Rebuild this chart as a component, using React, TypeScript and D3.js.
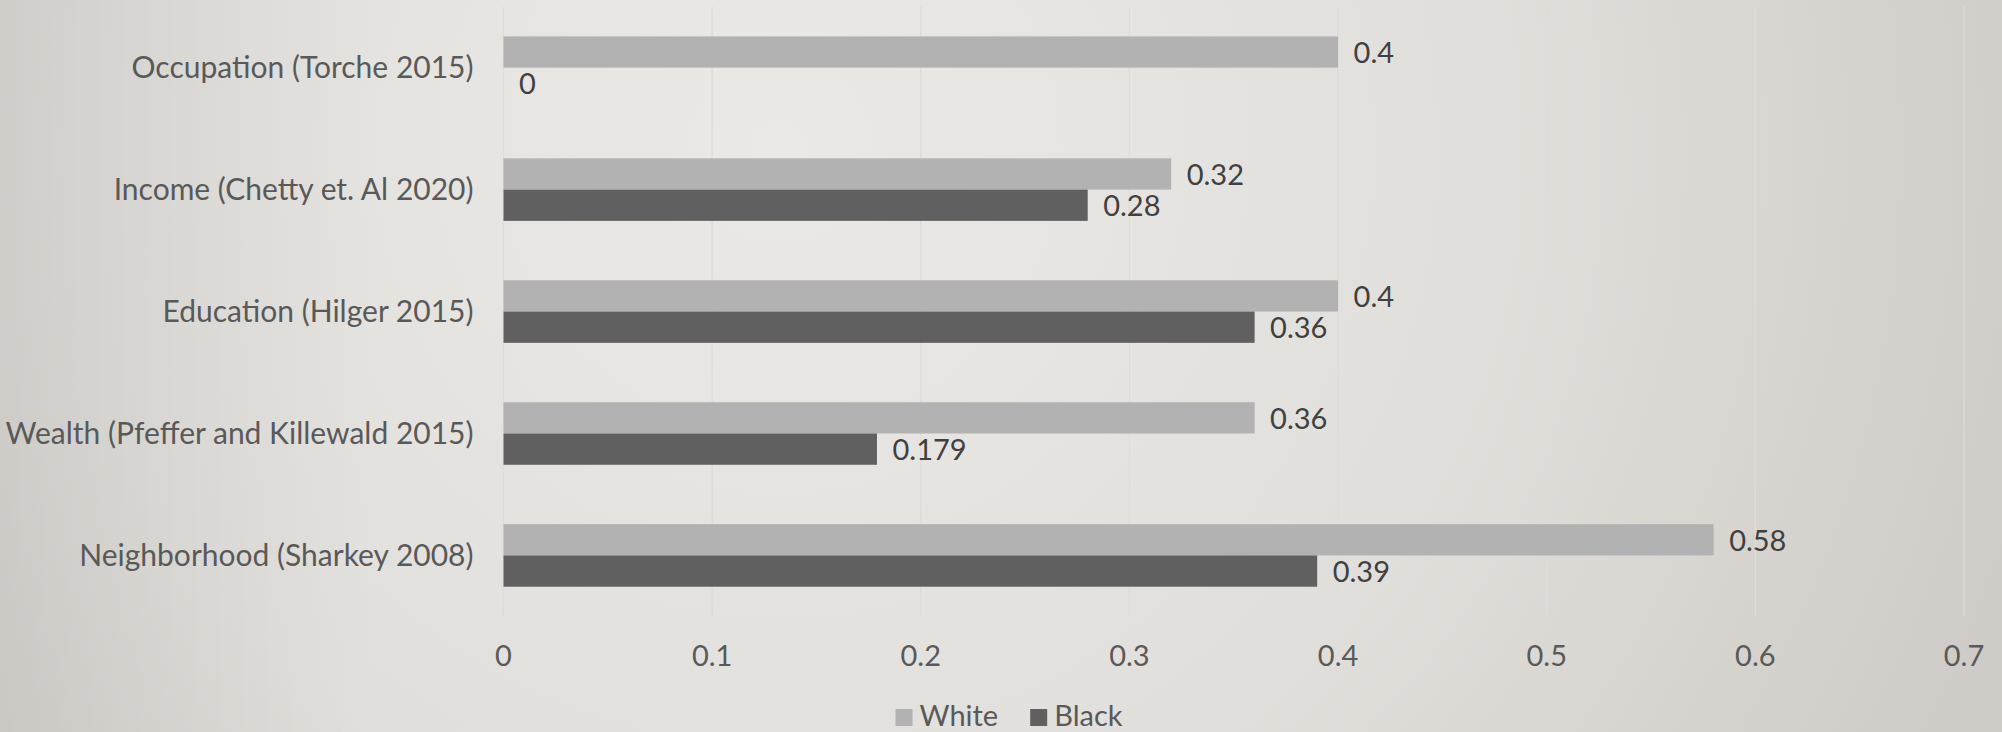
import React, { useEffect, useRef } from "react";
import * as d3 from "d3";

const categories = [
  "Occupation (Torche 2015)",
  "Income (Chetty et. Al 2020)",
  "Education (Hilger 2015)",
  "Wealth (Pfeffer and Killewald 2015)",
  "Neighborhood (Sharkey 2008)",
];
const whiteValues = [0.4, 0.32, 0.4, 0.36, 0.58];
const blackValues = [0, 0.28, 0.36, 0.179, 0.39];
const xTicks = [0, 0.1, 0.2, 0.3, 0.4, 0.5, 0.6, 0.7];
const seriesNames = ["White", "Black"];
const seriesColors = ["#b2b2b2", "#606060"];

const W = 2002;
const H = 732;
const FONT = "'Gill Sans MT', 'Gill Sans', Lato, sans-serif";

export default function App() {
  const ref = useRef<SVGSVGElement | null>(null);

  useEffect(() => {
    const svg = d3.select(ref.current);
    svg.selectAll("*").remove();

    const defs = svg.append("defs");
    const grad = defs
      .append("radialGradient")
      .attr("id", "bg")
      .attr("gradientUnits", "userSpaceOnUse")
      .attr("cx", 780)
      .attr("cy", 150)
      .attr("r", 1300);
    grad.append("stop").attr("offset", "0").attr("stop-color", "#ebe9e6");
    grad.append("stop").attr("offset", "0.55").attr("stop-color", "#e1dfdb");
    grad.append("stop").attr("offset", "1").attr("stop-color", "#cfccc7");

    // darker rim along the left edge
    const edge = defs
      .append("linearGradient")
      .attr("id", "edge")
      .attr("x1", "0")
      .attr("x2", "1")
      .attr("y1", "0")
      .attr("y2", "0");
    edge.append("stop").attr("offset", "0").attr("stop-color", "#000").attr("stop-opacity", 0.07);
    edge.append("stop").attr("offset", "1").attr("stop-color", "#000").attr("stop-opacity", 0);

    svg.append("rect").attr("width", W).attr("height", H).attr("fill", "url(#bg)");
    svg.append("rect").attr("width", 380).attr("height", H).attr("fill", "url(#edge)");

    const x = d3.scaleLinear().domain([0, 0.7]).range([503.5, 1964]);
    const y = d3
      .scaleBand<string>()
      .domain(categories)
      .range([6.7, 616.4])
      .paddingInner(0.487)
      .paddingOuter(0.2435);
    const sub = d3
      .scaleBand<number>()
      .domain([0, 1])
      .range([0, y.bandwidth()]);

    // vertical gridlines
    svg
      .append("g")
      .selectAll("line")
      .data(xTicks)
      .join("line")
      .attr("x1", (d) => x(d))
      .attr("x2", (d) => x(d))
      .attr("y1", 6.7)
      .attr("y2", 616.4)
      .attr("stroke", "#dddcda")
      .attr("stroke-width", 1.3);

    // tick labels
    svg
      .append("g")
      .selectAll("text")
      .data(xTicks)
      .join("text")
      .attr("x", (d) => x(d))
      .attr("y", 665.5)
      .attr("text-anchor", "middle")
      .attr("font-family", FONT)
      .attr("font-size", 29)
      .attr("fill", "#595959")
      .text((d) => String(d));

    // category labels
    svg
      .append("g")
      .selectAll("text")
      .data(categories)
      .join("text")
      .attr("x", 473.5)
      .attr("y", (d) => (y(d) as number) + y.bandwidth() / 2 + 10.5)
      .attr("text-anchor", "end")
      .attr("font-family", FONT)
      .attr("font-size", 30)
      .attr("fill", "#595959")
      .text((d) => d);

    const series = [whiteValues, blackValues];
    series.forEach((vals, si) => {
      const g = svg.append("g");
      g.selectAll("rect")
        .data(vals)
        .join("rect")
        .attr("x", x(0))
        .attr("y", (_, i) => (y(categories[i]) as number) + (sub(si) as number))
        .attr("width", (d) => x(d) - x(0))
        .attr("height", sub.bandwidth())
        .attr("fill", seriesColors[si]);
      g.selectAll("text")
        .data(vals)
        .join("text")
        .attr("x", (d) => x(d) + 15.5)
        .attr(
          "y",
          (_, i) =>
            (y(categories[i]) as number) + (sub(si) as number) + sub.bandwidth() / 2 + 11
        )
        .attr("font-family", FONT)
        .attr("font-size", 29)
        .attr("fill", "#404040")
        .text((d) => String(d));
    });

    // legend
    const lg = svg.append("g");
    const items = lg
      .selectAll("g")
      .data(seriesNames)
      .join("g");
    items
      .append("rect")
      .attr("width", 17)
      .attr("height", 17)
      .attr("y", 709)
      .attr("fill", (_, i) => seriesColors[i]);
    items
      .append("text")
      .attr("x", 24)
      .attr("y", 726)
      .attr("font-family", FONT)
      .attr("font-size", 29)
      .attr("fill", "#595959")
      .text((d) => d);
    let cx = 0;
    const gap = 32;
    items.each(function () {
      const node = this as SVGGElement;
      d3.select(node).attr("transform", `translate(${cx},0)`);
      const tw = (d3.select(node).select("text").node() as SVGTextElement).getComputedTextLength();
      cx += 24 + tw + gap;
    });
    const total = cx - gap;
    lg.attr("transform", `translate(${1009 - total / 2},0)`);
  }, []);

  return (
    <svg
      ref={ref}
      width={W}
      height={H}
      style={{ position: "absolute", left: 0, top: 0, display: "block" }}
    />
  );
}
